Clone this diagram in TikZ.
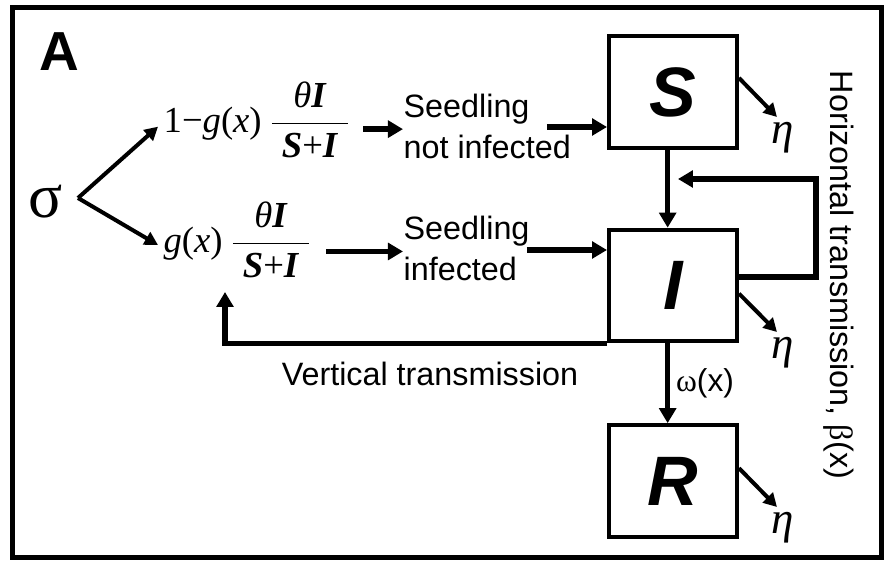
\documentclass[tikz,border=0pt]{standalone}
\usepackage{amsmath,amssymb}
\usepackage{fontspec}
\setmainfont{Liberation Sans}
\newfontfamily\frmfont{Liberation Serif}
\usetikzlibrary{arrows.meta}

\begin{document}
\begin{tikzpicture}[x=0.3pt,y=-0.3pt,
  box/.style={draw,line width=1.2pt,minimum width=38.4pt,minimum height=33.5pt,inner sep=0pt,
    font=\fontsize{21}{21}\selectfont\bfseries\itshape},
  flow/.style={line width=1.6pt,-{Triangle[length=4.5pt,width=5pt]}},
  thinflow/.style={line width=1.2pt,-{Triangle[length=4pt,width=4.2pt]}},
  txt/.style={font=\fontsize{9.7}{12.3}\selectfont,align=left,inner sep=0pt},
  frm/.style={font=\fontsize{11}{12}\selectfont\frmfont,inner sep=0pt,anchor=west},
  etalab/.style={font=\fontsize{13.5}{13.5}\selectfont\frmfont\itshape,inner sep=0pt}]
\useasboundingbox (0,0) rectangle (889,563);
\draw[line width=1.5pt] (12.5,7.5) rectangle (881.5,557.5);
\node[font=\fontsize{16.5}{16.5}\selectfont\bfseries] (lab) at (59,52) {A};
% compartments
\node[box] (S) at (673,92) {S};
\node[box] (I) at (673,285.5) {I};
\node[box] (R) at (673,481) {R};
% seed branch
\node[font=\fontsize{19}{19}\selectfont\frmfont,inner sep=0pt] (sig) at (46,202) {σ};
\node[frm] (f1) at (163,120)
  {$\mbox{1−\textit{g}(\textit{x})}\,\dfrac{\mbox{\textit{θ}\textbf{\textit{I}}}}{\;\mbox{\textbf{\textit{S}}+\textbf{\textit{I}}}\;}$};
\node[frm] (f2) at (163,240)
  {$\mbox{\textit{g}(\textit{x})}\,\dfrac{\mbox{\textit{θ}\textbf{\textit{I}}}}{\;\mbox{\textbf{\textit{S}}+\textbf{\textit{I}}}\;}$};
\node[txt,anchor=north west] (ni) at (403,93) {Seedling\\not infected};
\node[txt,anchor=north west] (si) at (403,215) {Seedling\\infected};
\coordinate (fork) at (78,198);
\draw[thinflow] (fork) -- ([xshift=-1.5pt,yshift=-2pt]f1.west);
\draw[thinflow] (fork) -- ([xshift=-1.5pt,yshift=-1.5pt]f2.west);
\draw[flow] ([xshift=3pt,yshift=1pt]f1.base east) -- ([yshift=1pt]f1.base east -| ni.west);
\draw[flow] ([xshift=3.6pt,yshift=0.3pt]f2.base east) -- ([yshift=0.3pt]f2.base east -| si.west);
\coordinate (niout) at (547,127);
\coordinate (siout) at (527,250);
\draw[flow] (niout) -- (niout -| S.west);
\draw[flow] (siout) -- (siout -| I.west);
% transitions
\draw[flow] ([xshift=-1.6pt]S.south) -- ([xshift=-1.6pt]I.north);
\draw[flow] ([xshift=-1.6pt]I.south) -- ([xshift=-1.6pt]R.north);
\node[font=\fontsize{9.5}{9.5}\selectfont,inner sep=0pt] (om) at (705,383) {{\frmfont ω}(x)};
% horizontal transmission
\coordinate (hloop) at (816,179);
\coordinate (hin) at (678,179);
\draw[flow] ([yshift=2.5pt]I.east) -| (hloop) -- (hin);
\node[txt,rotate=-90] (htr) at (839,275) {Horizontal transmission, {\frmfont β}(x)};
% vertical transmission
\coordinate (vup) at (225,292);
\draw[flow] (I.south west) -| (vup);
\node[txt] (vtr) at (430,374) {Vertical transmission};
% deaths
\foreach \b/\ang/\ey in {S/12/117,I/-7/332,R/11/507} {
  \coordinate (out\b) at (777,\ey);
  \draw[thinflow] (\b.\ang) -- (out\b);
  \node[etalab] (eta\b) at (783,\ey+21) {η};
}
\end{tikzpicture}
\end{document}
